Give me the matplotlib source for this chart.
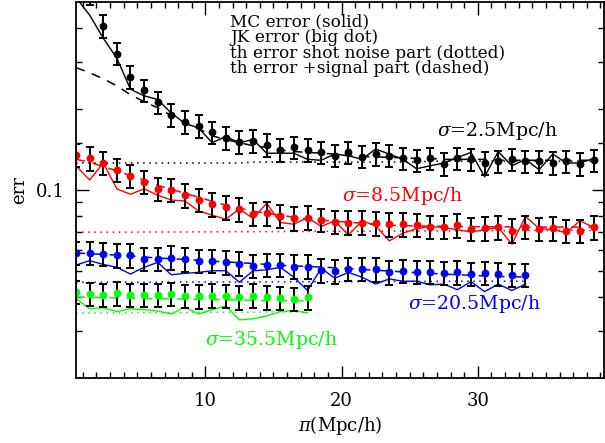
"""
plot.py
-------
Error comparison (MC / JK / theory) versus pi for four sigma bins.
"""

import numpy as np
import matplotlib
matplotlib.use("Agg")
import matplotlib.pyplot as plt
from matplotlib.ticker import FixedLocator, NullFormatter, FixedFormatter

plt.rcParams["font.family"] = ["DejaVu Serif"]
plt.rcParams["mathtext.fontset"] = "dejavuserif"

# -----------------------------------------------------------------------
# Data
# -----------------------------------------------------------------------

x_black = np.arange(0.5, 39.0, 1.0)
x_red   = np.arange(0.5, 39.0, 1.0)
x_blue  = np.arange(0.5, 34.0, 1.0)
x_green = np.arange(0.5, 18.0, 1.0)

black_jk = [0.70, 0.54, 0.407, 0.321, 0.263, 0.235, 0.212, 0.190, 0.179, 0.173,
            0.164, 0.156, 0.151, 0.152, 0.147, 0.141, 0.144, 0.141, 0.138, 0.134,
            0.138, 0.133, 0.136, 0.134, 0.131, 0.129, 0.131, 0.125, 0.131, 0.130,
            0.126, 0.128, 0.130, 0.128, 0.128, 0.126, 0.128, 0.125, 0.129]
black_mc = [0.52, 0.447, 0.367, 0.309, 0.237, 0.224, 0.217, 0.193, 0.177, 0.170,
            0.150, 0.158, 0.150, 0.154, 0.137, 0.137, 0.137, 0.130, 0.129, 0.136,
            0.134, 0.130, 0.142, 0.136, 0.130, 0.120, 0.123, 0.126, 0.132, 0.138,
            0.112, 0.139, 0.123, 0.130, 0.119, 0.136, 0.126, 0.126, 0.131]
black_th_sig = [0.285, 0.273, 0.259, 0.244, 0.226, 0.213, 0.202, 0.189, 0.178, 0.169,
                0.159, 0.154, 0.150, 0.146, 0.144, 0.141, 0.139, 0.138, 0.137, 0.136,
                0.134, 0.133, 0.133, 0.132, 0.132, 0.131, 0.131, 0.130, 0.130, 0.130,
                0.130, 0.129, 0.129, 0.129, 0.129, 0.129, 0.129, 0.129, 0.129]
black_th_shot = [0.126, 0.126, 0.126, 0.126, 0.126, 0.126, 0.126, 0.126, 0.126, 0.126,
                 0.126, 0.126, 0.126, 0.127, 0.127, 0.127, 0.127, 0.127, 0.127, 0.127,
                 0.127, 0.127, 0.127, 0.127, 0.127, 0.127, 0.128, 0.128, 0.128, 0.128,
                 0.128, 0.128, 0.128, 0.128, 0.128, 0.128, 0.128, 0.128, 0.128]

red_jk = [0.135, 0.131, 0.126, 0.119, 0.113, 0.107, 0.101, 0.100, 0.0956, 0.0918,
          0.0885, 0.0863, 0.0848, 0.0813, 0.0818, 0.0801, 0.0784, 0.0790, 0.0774, 0.0761,
          0.0757, 0.0757, 0.0751, 0.0746, 0.0746, 0.0740, 0.0728, 0.0728, 0.0738, 0.0715,
          0.0720, 0.0726, 0.0707, 0.0728, 0.0717, 0.0720, 0.0703, 0.0703, 0.0726]
red_mc = [0.123, 0.109, 0.126, 0.101, 0.0964, 0.101, 0.0956, 0.0918, 0.0910, 0.0836,
          0.0806, 0.0779, 0.0850, 0.0784, 0.0893, 0.0757, 0.0746, 0.0790, 0.0732, 0.0768,
          0.0680, 0.0768, 0.0736, 0.0647, 0.0691, 0.0718, 0.0732, 0.0726, 0.0711, 0.0699,
          0.0711, 0.0726, 0.0629, 0.0797, 0.0720, 0.0711, 0.0695, 0.0768, 0.0726]
red_th_sig = [0.130, 0.127, 0.122, 0.118, 0.113, 0.109, 0.104, 0.1006, 0.0972, 0.0940,
              0.0908, 0.0878, 0.0856, 0.0834, 0.0820, 0.0806, 0.0792, 0.0779, 0.0772, 0.0766,
              0.0759, 0.0753, 0.0746, 0.0740, 0.0737, 0.0735, 0.0734, 0.0733, 0.0732, 0.0731,
              0.0730, 0.0730, 0.0729, 0.0729, 0.0728, 0.0728, 0.0728, 0.0728, 0.0728]
red_th_shot = [0.0697, 0.0697, 0.0697, 0.0697, 0.0697, 0.0698, 0.0698, 0.0698, 0.0698, 0.0699,
               0.0699, 0.0699, 0.0700, 0.0700, 0.0700, 0.0701, 0.0701, 0.0701, 0.0702, 0.0702,
               0.0702, 0.0703, 0.0703, 0.0703, 0.0704, 0.0704, 0.0704, 0.0705, 0.0705, 0.0705,
               0.0706, 0.0706, 0.0706, 0.0707, 0.0707, 0.0707, 0.0708, 0.0708, 0.0708]

blue_jk = [0.0584, 0.0583, 0.0578, 0.0572, 0.0572, 0.0555, 0.0555, 0.0561, 0.0552, 0.0544,
           0.0546, 0.0538, 0.0533, 0.0523, 0.0526, 0.0526, 0.0519, 0.0519, 0.0503, 0.0498,
           0.0508, 0.0508, 0.0507, 0.0494, 0.0501, 0.0497, 0.0497, 0.0491, 0.0494, 0.0487,
           0.0491, 0.0487, 0.0483, 0.0483]
blue_mc = [0.0526, 0.0546, 0.0529, 0.0516, 0.0487, 0.0516, 0.0538, 0.0484, 0.0490, 0.0494,
           0.0501, 0.0501, 0.0454, 0.0501, 0.0505, 0.0516, 0.0474, 0.0423, 0.0512, 0.0470,
           0.0494, 0.0474, 0.0447, 0.0467, 0.0458, 0.0458, 0.0444, 0.0447, 0.0426, 0.0456,
           0.0419, 0.0447, 0.0423, 0.0447]
blue_th_sig = [0.0583, 0.0580, 0.0576, 0.0573, 0.0568, 0.0563, 0.0559, 0.0555, 0.0552, 0.0548,
               0.0544, 0.0540, 0.0537, 0.0533, 0.0529, 0.0525, 0.0522, 0.0520, 0.0517, 0.0514,
               0.0510, 0.0507, 0.0503, 0.0500, 0.0496, 0.0493, 0.0490, 0.0487, 0.0484, 0.0482,
               0.0479, 0.0477, 0.0476, 0.0475]
blue_th_shot = [0.0454, 0.0454, 0.0454, 0.0454, 0.0454, 0.0454, 0.0454, 0.0455, 0.0455, 0.0455,
                0.0455, 0.0455, 0.0455, 0.0455, 0.0455, 0.0456, 0.0456, 0.0456, 0.0456, 0.0456,
                0.0456, 0.0457, 0.0457, 0.0457, 0.0457, 0.0457, 0.0457, 0.0458, 0.0458, 0.0458,
                0.0458, 0.0458, 0.0458, 0.0458]

green_jk = [0.0417, 0.0411, 0.0408, 0.0413, 0.0408, 0.0408, 0.0408, 0.0411, 0.0403, 0.0402,
            0.0405, 0.0403, 0.0399, 0.0405, 0.0399, 0.0397, 0.0394, 0.0399]
green_mc = [0.0394, 0.0362, 0.0365, 0.0353, 0.0362, 0.0359, 0.0355, 0.0346, 0.0367, 0.0346,
            0.0359, 0.0371, 0.0329, 0.0332, 0.0340, 0.0353, 0.0356, 0.0349]
green_th_sig = [0.0400, 0.0399, 0.0398, 0.0397, 0.0396, 0.0395, 0.0395, 0.0394, 0.0393, 0.0392,
                0.0391, 0.0390, 0.0390, 0.0389, 0.0388, 0.0388, 0.0387, 0.0387]
green_th_shot = [0.0349, 0.0349, 0.0349, 0.0349, 0.0350, 0.0350, 0.0350, 0.0350, 0.0350, 0.0351,
                 0.0351, 0.0351, 0.0351, 0.0351, 0.0352, 0.0352, 0.0352, 0.0352]

# fractional JK error (bar half-length / value)
black_frac = 0.095
red_frac   = 0.10
blue_frac  = 0.10
green_frac = 0.10

sigma_labels = [r"$\sigma$=2.5Mpc/h", r"$\sigma$=8.5Mpc/h",
                r"$\sigma$=20.5Mpc/h", r"$\sigma$=35.5Mpc/h"]
legend_lines = ["MC error (solid)", "JK error (big dot)",
                "th error shot noise part (dotted)", "th error +signal part (dashed)"]

y_major = [0.1]
y_minor = [0.03, 0.04, 0.05, 0.06, 0.07, 0.08, 0.09, 0.15, 0.2, 0.3, 0.4]

W, H = 605, 443


def px(x, y):
    """pixel position (from top-left) -> figure fraction"""
    return x / W, 1 - y / H


# -----------------------------------------------------------------------
# Plot
# -----------------------------------------------------------------------

fig = plt.figure(figsize=(W / 100, H / 100), dpi=100)
ax = fig.add_axes([0.1256, 0.1467, 0.8724, 0.8488])

series = [
    (x_black, black_jk, black_mc, black_th_sig, black_th_shot, black_frac, "black"),
    (x_red,   red_jk,   red_mc,   red_th_sig,   red_th_shot,   red_frac,   "#ff0000"),
    (x_blue,  blue_jk,  blue_mc,  blue_th_sig,  blue_th_shot,  blue_frac,  "#0000ff"),
    (x_green, green_jk, green_mc, green_th_sig, green_th_shot, green_frac, "#00ff00"),
]

for x, jk, mc, sig, shot, frac, col in series:
    jk = np.asarray(jk)
    ax.plot(x, shot, color=col, lw=1.1, ls=(0, (1, 3)))
    ax.plot(x, sig,  color=col, lw=1.1, ls=(0, (6, 5)))
    ax.plot(x, mc,   color=col, lw=1.0)
    ax.errorbar(x, jk, yerr=frac * jk, fmt="none", ecolor="black",
                elinewidth=1.4, capsize=3.0, capthick=1.4)
    ax.plot(x, jk, "o", color=col, ms=4.6, mec=col)

ax.set_yscale("log")
ax.set_xlim(0.5, 39.25)
ax.set_ylim(0.02, 0.5)

ax.yaxis.set_major_locator(FixedLocator(y_major))
ax.yaxis.set_major_formatter(FixedFormatter(["0.1"]))
ax.yaxis.set_minor_locator(FixedLocator(y_minor))
ax.yaxis.set_minor_formatter(NullFormatter())
ax.xaxis.set_major_locator(FixedLocator([10, 20, 30]))
ax.xaxis.set_minor_locator(FixedLocator(np.arange(1, 40)))

ax.tick_params(which="both", direction="in", top=True, right=True,
               labelsize=13, width=1.0, color="black")
ax.tick_params(which="major", length=9)
ax.tick_params(which="minor", length=4.5)
ax.tick_params(axis="x", which="major", pad=10)
ax.tick_params(axis="y", which="major", pad=8)
for s in ax.spines.values():
    s.set_linewidth(1.3)

ax.set_xlabel(r"$\pi$(Mpc/h)", fontsize=13, labelpad=3)
ax.set_ylabel("err", fontsize=13, labelpad=5.5)

# legend-style text block
for i, line in enumerate(legend_lines):
    fig.text(*px(230, 22 + i * 15.5), line, fontsize=12.2,
             va="center", ha="left")

# sigma annotations
label_pos = [(437, 131), (342, 196), (408, 304), (205, 340)]
label_col = ["black", "#ff0000", "#0000ff", "#00ff00"]
for txt, (lx, ly), col in zip(sigma_labels, label_pos, label_col):
    fig.text(*px(lx, ly), txt, color=col, fontsize=13.6,
             ha="left", va="center")

fig.savefig("out.png", dpi=100)
